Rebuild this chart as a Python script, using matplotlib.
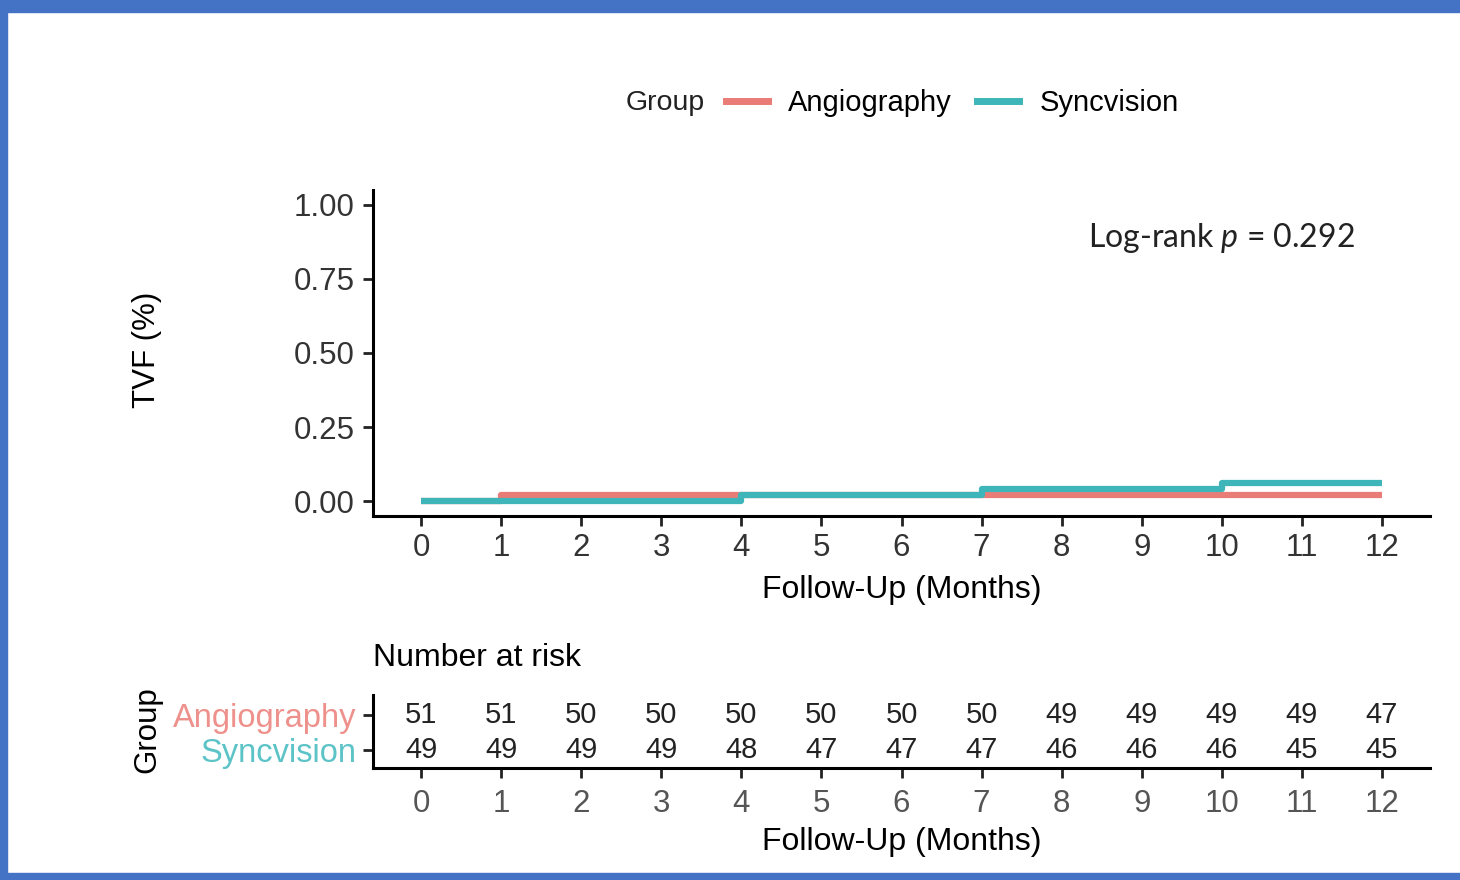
import matplotlib.pyplot as plt
from matplotlib.patches import Rectangle
from matplotlib.lines import Line2D

plt.rcParams['font.family'] = ['Liberation Sans', 'DejaVu Sans']
plt.rcParams['mathtext.fontset'] = 'custom'
plt.rcParams['mathtext.rm'] = 'Lato'
plt.rcParams['mathtext.it'] = 'Lato:italic'

# cumulative TVF (step curves)
angio_t = [0, 1, 12]
angio_tvf = [0.0, 0.0196, 0.0196]
sync_t = [0, 4, 7, 10, 12]
sync_tvf = [0.0, 0.0204, 0.0412, 0.0621, 0.0621]

months = list(range(13))
groups = ['Angiography', 'Syncvision']
angio_risk = [51, 51, 50, 50, 50, 50, 50, 50, 49, 49, 49, 49, 47]
sync_risk = [49, 49, 49, 49, 48, 47, 47, 47, 46, 46, 46, 45, 45]

red = '#EA7C77'
cyan = '#3DB5B9'
W, H = 1460, 880

fig = plt.figure(figsize=(14.6, 8.8), dpi=100)

# survival panel
ax = fig.add_axes([373 / W, 1 - 516 / H, (1430 - 373) / W, (516 - 190) / H])
ax.step(angio_t, angio_tvf, where='post', color=red, lw=4.5, solid_capstyle='butt')
ax.step(sync_t, sync_tvf, where='post', color=cyan, lw=4.5, solid_capstyle='butt')
ax.set_xlim(-0.6, 12.6)
ax.set_ylim(-0.05, 1.05)
ax.set_xticks(months)
ax.set_yticks([0, 0.25, 0.5, 0.75, 1.0])
ax.set_yticklabels(['0.00', '0.25', '0.50', '0.75', '1.00'])
for s in ['top', 'right']:
    ax.spines[s].set_visible(False)
for s in ['left', 'bottom']:
    ax.spines[s].set_linewidth(2.2)
ax.tick_params(axis='both', width=2, length=7, colors='#222222', pad=5)
ax.tick_params(axis='y', labelsize=22.5, labelcolor='#333333', pad=6)
ax.tick_params(axis='x', labelsize=22.5, labelcolor='#333333')
ax.set_xlabel('Follow-Up (Months)', fontsize=23, labelpad=9)
ax.text(1088 / W, 1 - 238 / H, r'Log-rank $p$ = 0.292', transform=fig.transFigure,
        fontsize=23, family='Lato', color='#222222', va='center', ha='left')
fig.text(147 / W, 1 - 350 / H, 'TVF (%)', rotation=90, fontsize=22.5,
         ha='center', va='center')

# legend across the top
fig.text(705 / W, 1 - 103 / H, 'Group', fontsize=20.5, ha='right', va='center',
         color='#222222')
handles = [Line2D([], [], color=red, lw=5), Line2D([], [], color=cyan, lw=5)]
fig.legend(handles, groups, loc='center left', bbox_to_anchor=(726 / W, 1 - 103 / H),
           ncol=2, frameon=False, fontsize=21, handlelength=1.45,
           handletextpad=0.69, columnspacing=0.85, borderpad=0, borderaxespad=0)

# number at risk table
rt = fig.add_axes([373 / W, 1 - 768 / H, (1430 - 373) / W, (768 - 695) / H])
rt.set_xlim(-0.6, 12.6)
rt.set_ylim(0.49, 2.57)
for m, a, s in zip(months, angio_risk, sync_risk):
    rt.text(m, 2, str(a), ha='center', va='center', fontsize=21, color='#222222')
    rt.text(m, 1, str(s), ha='center', va='center', fontsize=21, color='#222222')
rt.set_yticks([2, 1])
rt.set_xticks(months)
for s in ['top', 'right']:
    rt.spines[s].set_visible(False)
for s in ['left', 'bottom']:
    rt.spines[s].set_linewidth(2.2)
rt.tick_params(axis='both', width=2, length=7, colors='#222222', pad=5)
rt.tick_params(axis='x', labelsize=22.5, labelcolor='#555555', pad=8)
rt.set_yticklabels(groups, fontsize=23.5)
for lbl, c in zip(rt.get_yticklabels(), ['#EE918C', '#5CC3C7']):
    lbl.set_color(c)
rt.set_xlabel('Follow-Up (Months)', fontsize=23, labelpad=6)
rt.set_title('Number at risk', fontsize=23, loc='left', pad=21, x=0.0)
fig.text(147 / W, 1 - 730 / H, 'Group', rotation=90, fontsize=22.5,
         ha='center', va='center')

# blue frame
frame = '#4472C4'
fig.patches.append(Rectangle((0, 1 - 12 / H), 1, 12 / H, transform=fig.transFigure,
                             color=frame, zorder=10))
fig.patches.append(Rectangle((0, 0), 7 / W, 1, transform=fig.transFigure,
                             color=frame, zorder=10))
fig.patches.append(Rectangle((0, 0), 1, 7 / H, transform=fig.transFigure,
                             color=frame, zorder=10))

fig.savefig('out.png', dpi=100)
